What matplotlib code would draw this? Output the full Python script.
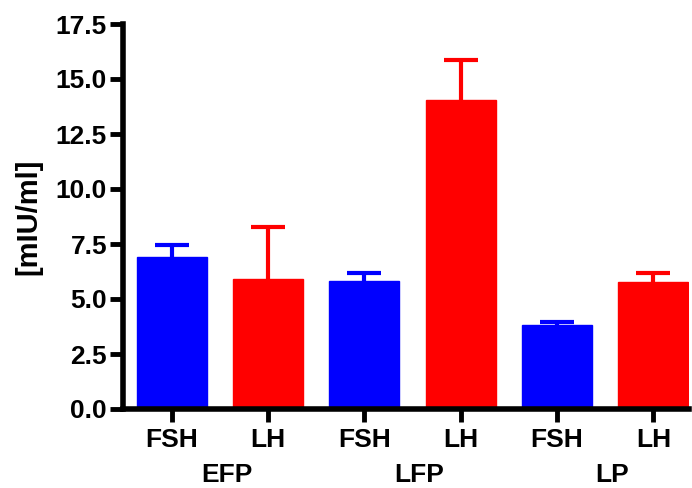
import matplotlib
matplotlib.use("Agg")
import matplotlib.pyplot as plt
import matplotlib.transforms as mtransforms

plt.rcParams['font.family'] = ['Liberation Sans', 'DejaVu Sans']
plt.rcParams['font.weight'] = 'bold'

categories = ["FSH", "LH", "FSH", "LH", "FSH", "LH"]
groups = ["EFP", "LFP", "LP"]
values = [6.93, 5.90, 5.80, 14.05, 3.83, 5.78]
errors = [0.52, 2.36, 0.36, 1.82, 0.13, 0.40]
colors = ["#0000FF", "#FF0000", "#0000FF", "#FF0000", "#0000FF", "#FF0000"]
yticks = [0.0, 2.5, 5.0, 7.5, 10.0, 12.5, 15.0, 17.5]

fig = plt.figure(figsize=(6.92, 4.88), dpi=100)
ax = fig.add_axes([123/692, 1 - 409/488, (689 - 123)/692, (409 - 24)/488])

x = list(range(len(values)))
ax.bar(x, values, width=0.725, color=colors, edgecolor=colors, linewidth=1, zorder=2)
for xi, v, e, c in zip(x, values, errors, colors):
    eb = ax.errorbar([xi], [v], yerr=[[0], [e]], fmt='none', ecolor=c,
                     elinewidth=3, capsize=12.5, capthick=3, zorder=3)
    caps = eb[1]
    if len(caps) > 1:
        caps[0].set_visible(False)

ax.set_ylim(0, 17.5)
ax.set_xlim(-0.505, 5.37)
ax.set_yticks(yticks)
ax.set_yticklabels([f"{t:.1f}" for t in yticks], fontsize=19, fontweight='bold')
ax.set_xticks(x)
ax.set_xticklabels(categories, fontsize=19, fontweight='bold')

for s in ['top', 'right']:
    ax.spines[s].set_visible(False)
for s in ['left', 'bottom']:
    ax.spines[s].set_linewidth(4)
    ax.spines[s].set_capstyle('projecting')
ax.tick_params(axis='both', width=3.5, length=9.5, color='black')
ax.tick_params(axis='y', pad=2)
ax.tick_params(axis='x', pad=4)

trans = mtransforms.blended_transform_factory(ax.transData, fig.transFigure)
for i, g in enumerate(groups):
    ax.text(2 * i + 0.5 + 0.07, 1 - 463/488, g, transform=trans, ha='center', va='top',
            fontsize=19, fontweight='bold')

fig.text(28/692, 1 - 216.5/488, "[mIU/ml]", rotation=90, ha='center', va='center',
         fontsize=21, fontweight='bold')

fig.savefig("out.png", dpi=100)
